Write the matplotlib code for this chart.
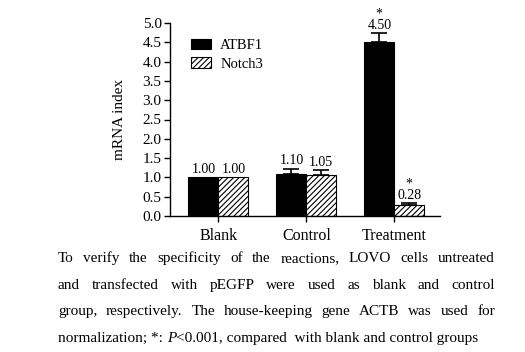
import matplotlib
matplotlib.use("Agg")
import matplotlib.pyplot as plt
import numpy as np

plt.rcParams['font.family'] = ['Liberation Serif', 'DejaVu Serif']
plt.rcParams['hatch.linewidth'] = 0.8

groups = ['Blank', 'Control', 'Treatment']
atbf1 = [1.00, 1.10, 4.50]
atbf1_err = [0.0, 0.13, 0.23]
notch3 = [1.00, 1.05, 0.28]
notch3_err = [0.0, 0.14, 0.05]
atbf1_labels = ['1.00', '1.10', '4.50']
notch3_labels = ['1.00', '1.05', '0.28']
atbf1_star = [False, False, True]
notch3_star = [False, False, True]
yticks = [0.0, 0.5, 1.0, 1.5, 2.0, 2.5, 3.0, 3.5, 4.0, 4.5, 5.0]

caption_lines = [
    "To verify the specificity of the reactions, LOVO cells untreated",
    "and transfected with pEGFP were used as blank and control",
    "group, respectively. The house-keeping gene ACTB was used for",
]

fig = plt.figure(figsize=(5.25, 3.52), dpi=100)
ax = fig.add_axes([170 / 525, 1 - 216 / 352, 270 / 525, 193 / 352])

x = np.arange(len(groups))
w = 0.34
ax.bar(x - w / 2, atbf1, w, color='black', edgecolor='black', linewidth=0.8,
       label='ATBF1')
ax.bar(x + w / 2, notch3, w, color='white', edgecolor='black', linewidth=0.8,
       hatch='//////', label='Notch3')

# one-sided error bars
for xs, vals, errs in [(x - w / 2, atbf1, atbf1_err), (x + w / 2, notch3, notch3_err)]:
    for xi, v, e in zip(xs, vals, errs):
        if e > 0:
            ax.errorbar(xi, v, yerr=[[0], [e]], fmt='none', ecolor='black',
                        elinewidth=1.2, capsize=5.5, capthick=1.2)

for xs, vals, errs, labs, stars in [
        (x - w / 2, atbf1, atbf1_err, atbf1_labels, atbf1_star),
        (x + w / 2, notch3, notch3_err, notch3_labels, notch3_star)]:
    for xi, v, e, lab, st in zip(xs, vals, errs, labs, stars):
        top = v + e
        ax.annotate(lab, (xi, top), xytext=(0, 1.0), textcoords='offset points',
                    ha='center', va='bottom', fontsize=10)
        if st:
            ax.annotate('*', (xi, top), xytext=(0, 9.5), textcoords='offset points',
                        ha='center', va='bottom', fontsize=10)

ax.set_xlim(-0.55, 2.52)
ax.set_ylim(0, 5.0)
ax.set_yticks(yticks)
ax.set_yticklabels([f'{t:.1f}' for t in yticks], fontsize=11)
ax.set_xticks(x)
ax.set_xticklabels(groups, fontsize=11.5)
ax.tick_params(axis='both', direction='out', length=4, width=1, pad=2)
ax.tick_params(axis='x', pad=5)
for s in ['top', 'right']:
    ax.spines[s].set_visible(False)
for s in ['left', 'bottom']:
    ax.spines[s].set_linewidth(1)
ax.set_ylabel('mRNA index', fontsize=11, labelpad=12)

ax.legend(loc='upper left', bbox_to_anchor=(0.04, 0.97), frameon=False,
          fontsize=10.5, handlelength=1.4, handleheight=0.7, labelspacing=0.35,
          borderpad=0.2, handletextpad=0.6)

# justified caption
fig.canvas.draw()
r = fig.canvas.get_renderer()
left_px, right_px = 58, 495
baselines = [262, 289, 315, 342]
cap_fs = 11

def text_width(s, **kw):
    t = fig.text(0, 0, s, fontsize=cap_fs, **kw)
    wpx = t.get_window_extent(r).width
    t.remove()
    return wpx

for line, yb in zip(caption_lines, baselines[:3]):
    words = line.split(' ')
    widths = [text_width(wd) for wd in words]
    gap = (right_px - left_px - sum(widths)) / (len(words) - 1)
    xp = left_px
    for wd, wdw in zip(words, widths):
        fig.text(xp / 525, 1 - yb / 352, wd, fontsize=cap_fs, va='baseline')
        xp += wdw + gap

pieces = [("normalization; *: ", 'normal'), ("P", 'italic'),
          ("<0.001, compared  with blank and control groups", 'normal')]
xp = left_px
for s, st in pieces:
    fig.text(xp / 525, 1 - baselines[3] / 352, s, fontsize=cap_fs,
             va='baseline', style=st)
    xp += text_width(s, style=st)

fig.savefig('out.png', dpi=100)
